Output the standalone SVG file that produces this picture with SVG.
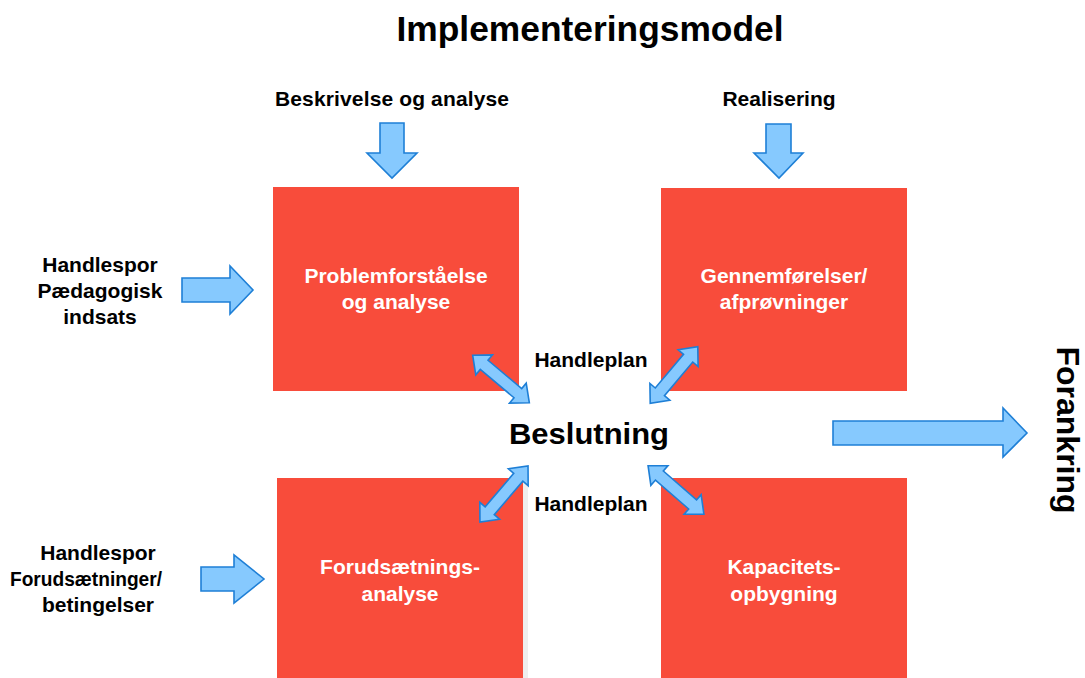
<svg xmlns="http://www.w3.org/2000/svg" width="1085" height="678" viewBox="0 0 1085 678">
<defs>
<style>
.box{fill:#F84C3B}
.arr{fill:#86C9FE;stroke:#1E7FD6;stroke-width:1.6;stroke-linejoin:miter}
.t{font-family:"Liberation Sans",Arial,sans-serif;font-weight:bold;fill:#000;text-anchor:middle}
.w{font-family:"Liberation Sans",Arial,sans-serif;font-weight:bold;fill:#fff;text-anchor:middle;font-size:21px}
.l{font-size:21px}
</style>
<path id="dbl" d="M-37,0 L-22,-13 L-22,-6 L22,-6 L22,-13 L37,0 L22,13 L22,6 L-22,6 L-22,13 Z"/>
</defs>
<rect width="1085" height="678" fill="#fff"/>
<text class="t" x="590" y="41" font-size="35" textLength="387" lengthAdjust="spacingAndGlyphs">Implementeringsmodel</text>

<g id="node-problem">
<rect class="box" x="273" y="187" width="246" height="204"/>
<text class="w" x="396" y="283">Problemforståelse</text>
<text class="w" x="396" y="309">og analyse</text>
</g>
<g id="node-gennem">
<rect class="box" x="661" y="188" width="246" height="203"/>
<text class="w" x="784" y="283">Gennemførelser/</text>
<text class="w" x="784" y="309">afprøvninger</text>
</g>
<g id="node-forud">
<rect x="523" y="478" width="5" height="200" fill="#EEEEEE"/>
<rect class="box" x="277" y="478" width="246" height="200"/>
<text class="w" x="400" y="574">Forudsætnings-</text>
<text class="w" x="400" y="601">analyse</text>
</g>
<g id="node-kapacitet">
<rect class="box" x="661" y="478" width="246" height="200"/>
<text class="w" x="784" y="574">Kapacitets-</text>
<text class="w" x="784" y="601">opbygning</text>
</g>
<g id="node-beslutning">
<text class="t" x="589" y="444" font-size="30" textLength="160" lengthAdjust="spacingAndGlyphs">Beslutning</text>
</g>
<g id="labels">
<text class="t l" x="392" y="106" textLength="234" lengthAdjust="spacing">Beskrivelse og analyse</text>
<text class="t l" x="779" y="106">Realisering</text>
<text class="t l" x="100" y="272">Handlespor</text>
<text class="t l" x="100" y="298">Pædagogisk</text>
<text class="t l" x="100" y="324">indsats</text>
<text class="t l" x="98" y="560">Handlespor</text>
<text class="t l" x="86" y="586" textLength="152" lengthAdjust="spacingAndGlyphs">Forudsætninger/</text>
<text class="t l" x="98" y="612">betingelser</text>
<text class="t l" x="591" y="367">Handleplan</text>
<text class="t l" x="591" y="511">Handleplan</text>
<text class="t" transform="translate(1057,430) rotate(90)" font-size="32">Forankring</text>
</g>
<g id="connectors">
<path class="arr" d="M380,123 L404,123 L404,153 L417,153 L392,178 L367,153 L380,153 Z"/>
<path class="arr" d="M766,124 L791,124 L791,153 L803,153 L779,178 L754,153 L766,153 Z"/>
<path class="arr" d="M182,278 L230,278 L230,266 L253,290 L230,314 L230,302 L182,302 Z"/>
<path class="arr" d="M201,567 L234,567 L234,555 L264,579 L234,603 L234,591 L201,591 Z"/>
<path class="arr" d="M833,421 L1003,421 L1003,408 L1027,433 L1003,457 L1003,445 L833,445 Z"/>
<use href="#dbl" class="arr" transform="translate(501,379) rotate(40)"/>
<use href="#dbl" class="arr" transform="translate(674,375) rotate(-50)"/>
<use href="#dbl" class="arr" transform="translate(504,494) rotate(-49.5)"/>
<use href="#dbl" class="arr" transform="translate(676,490) rotate(41)"/>
</g>
</svg>
